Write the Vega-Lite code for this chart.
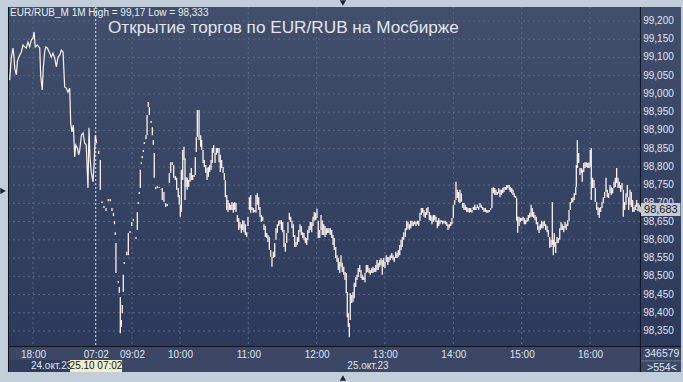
{
"$schema": "https://vega.github.io/schema/vega-lite/v6.json",
"width": 673, "height": 365,
"autosize": {"type": "none"},
"padding": {"left": 8, "top": 7, "right": 2, "bottom": 10},
"background": "#c3cedb",
"config": {"view": {"stroke": null, "fill": {"gradient": "linear", "x1": 0, "y1": 0, "x2": 0, "y2": 1, "stops": [{"offset": 0, "color": "#414f6c"}, {"offset": 0.9301, "color": "#2c395a"}, {"offset": 0.9301, "color": "#3b4764"}, {"offset": 1, "color": "#3b4764"}]}}, "font": "Liberation Sans",
 "locale": {"number": {"decimal": ",", "thousands": " ", "grouping": [3], "currency": ["", ""]}},
 "axis": {"grid": false, "ticks": false, "domain": false, "labelFont": "Liberation Sans", "labelFontSize": 10, "labelColor": "#dde6f3", "labelOverlap": false, "labelFlush": false, "labelBound": false, "titleOpacity": 0}},
"datasets": {
"levels": [{"p":98.35},{"p":98.4},{"p":98.45},{"p":98.5},{"p":98.55},{"p":98.6},{"p":98.65},{"p":98.7},{"p":98.75},{"p":98.8},{"p":98.85},{"p":98.9},{"p":98.95},{"p":99.0},{"p":99.05},{"p":99.1},{"p":99.15},{"p":99.2}],
"hours": [{"t":21},{"t":107.6},{"t":149.6},{"t":209.4},{"t":269.2},{"t":328.9},{"t":388.8},{"t":448.6},{"t":508.4}],
"evening": [{"t":0.6,"v":99.038},{"t":2.0,"v":99.099},{"t":3.5,"v":99.126},{"t":4.4,"v":99.101},{"t":5.0,"v":99.071},{"t":6.4,"v":99.052},{"t":7.3,"v":99.088},{"t":8.5,"v":99.101},{"t":10.8,"v":99.115},{"t":12.3,"v":99.134},{"t":13.7,"v":99.129},{"t":15.1,"v":99.126},{"t":16.6,"v":99.142},{"t":18.1,"v":99.129},{"t":19.5,"v":99.148},{"t":21.0,"v":99.153},{"t":21.9,"v":99.170},{"t":23.0,"v":99.129},{"t":24.8,"v":99.134},{"t":26.9,"v":99.126},{"t":27.7,"v":99.052},{"t":29.1,"v":99.011},{"t":30.0,"v":99.071},{"t":31.2,"v":99.115},{"t":32.1,"v":99.129},{"t":33.5,"v":99.126},{"t":35.6,"v":99.112},{"t":37.0,"v":99.101},{"t":38.5,"v":99.112},{"t":40.0,"v":99.099},{"t":41.4,"v":99.074},{"t":42.9,"v":99.101},{"t":44.4,"v":99.107},{"t":45.8,"v":99.120},{"t":47.3,"v":99.115},{"t":48.7,"v":99.019},{"t":50.1,"v":99.016},{"t":51.6,"v":99.005},{"t":53.1,"v":99.016},{"t":54.0,"v":98.920},{"t":55.1,"v":98.896},{"t":56.3,"v":98.915},{"t":57.5,"v":98.827},{"t":58.4,"v":98.860},{"t":59.8,"v":98.852},{"t":61.0,"v":98.833},{"t":61.9,"v":98.846},{"t":63.3,"v":98.887},{"t":64.8,"v":98.893},{"t":66.2,"v":98.865},{"t":67.6,"v":98.860},{"t":69.1,"v":98.742},{"t":70.0,"v":98.907},{"t":70.9,"v":98.824},{"t":72.0,"v":98.786},{"t":73.5,"v":98.759},{"t":74.4,"v":98.805},{"t":75.5,"v":98.887},{"t":76.7,"v":98.865}],
"bars": [
{"t":78.5,"high":98.844,"low":98.835},{"t":79.9,"high":98.819,"low":98.737},{"t":81.4,"high":98.706,"low":98.701},{"t":83.1,"high":98.693,"low":98.687},{"t":84.9,"high":98.687,"low":98.679},{"t":86.9,"high":98.712,"low":98.706},{"t":88.6,"high":98.712,"low":98.706},{"t":90.1,"high":98.687,"low":98.679},{"t":91.4,"high":98.674,"low":98.665},{"t":92.3,"high":98.652,"low":98.643},{"t":93.0,"high":98.621,"low":98.613},{"t":93.6,"high":98.591,"low":98.509},{"t":95.6,"high":98.487,"low":98.482},{"t":96.5,"high":98.471,"low":98.454},{"t":97.4,"high":98.443,"low":98.344},{"t":98.3,"high":98.380,"low":98.361},{"t":99.1,"high":98.421,"low":98.399},{"t":100.0,"high":98.504,"low":98.457},{"t":100.9,"high":98.539,"low":98.534},{"t":103.0,"high":98.567,"low":98.558},{"t":104.4,"high":98.619,"low":98.558},{"t":105.9,"high":98.624,"low":98.619},{"t":107.4,"high":98.649,"low":98.638},{"t":108.8,"high":98.657,"low":98.652},{"t":111.1,"high":98.608,"low":98.602},{"t":112.3,"high":98.676,"low":98.627},{"t":113.1,"high":98.704,"low":98.698},{"t":114.0,"high":98.731,"low":98.726},{"t":114.9,"high":98.792,"low":98.742},{"t":115.8,"high":98.813,"low":98.808},{"t":116.6,"high":98.830,"low":98.824},{"t":117.5,"high":98.846,"low":98.841},{"t":118.4,"high":98.868,"low":98.863},{"t":119.9,"high":98.887,"low":98.876},{"t":120.8,"high":98.942,"low":98.887},{"t":121.9,"high":98.978,"low":98.964},{"t":122.8,"high":98.964,"low":98.942},{"t":124.3,"high":98.926,"low":98.920},{"t":125.4,"high":98.909,"low":98.887},{"t":126.3,"high":98.874,"low":98.860},{"t":127.1,"high":98.838,"low":98.770},{"t":128.4,"high":98.745,"low":98.739},{"t":129.8,"high":98.748,"low":98.742},{"t":131.5,"high":98.745,"low":98.742},{"t":133.0,"high":98.739,"low":98.737},{"t":134.1,"high":98.742,"low":98.709},{"t":135.6,"high":98.731,"low":98.704},{"t":137.1,"high":98.701,"low":98.690},{"t":138.5,"high":98.698,"low":98.693},
{"t":140.3,"high":98.783,"low":98.756},{"t":141.5,"high":98.813,"low":98.783},{"t":142.9,"high":98.813,"low":98.805},{"t":144.1,"high":98.805,"low":98.770},{"t":145.5,"high":98.775,"low":98.764},{"t":146.7,"high":98.770,"low":98.737},{"t":148.1,"high":98.742,"low":98.717},{"t":149.0,"high":98.723,"low":98.696},{"t":149.9,"high":98.696,"low":98.663},{"t":150.8,"high":98.792,"low":98.676},{"t":152.0,"high":98.846,"low":98.764},{"t":153.1,"high":98.855,"low":98.819},{"t":154.0,"high":98.824,"low":98.709},{"t":154.9,"high":98.772,"low":98.745},{"t":156.0,"high":98.770,"low":98.737},{"t":157.2,"high":98.764,"low":98.745},{"t":158.4,"high":98.783,"low":98.759},{"t":159.5,"high":98.797,"low":98.764},{"t":160.7,"high":98.778,"low":98.764},{"t":162.1,"high":98.778,"low":98.772},{"t":163.0,"high":98.827,"low":98.778},{"t":163.9,"high":98.882,"low":98.841},{"t":164.8,"high":98.956,"low":98.882},{"t":166.3,"high":98.956,"low":98.874},{"t":167.7,"high":98.887,"low":98.855},{"t":168.6,"high":98.874,"low":98.846},{"t":169.8,"high":98.846,"low":98.811},{"t":170.9,"high":98.819,"low":98.800},{"t":172.1,"high":98.805,"low":98.783},{"t":173.3,"high":98.797,"low":98.764},{"t":174.4,"high":98.800,"low":98.772},{"t":175.6,"high":98.805,"low":98.786},{"t":176.8,"high":98.819,"low":98.792},{"t":177.9,"high":98.852,"low":98.811},{"t":179.1,"high":98.860,"low":98.838},{"t":180.3,"high":98.838,"low":98.811},{"t":181.4,"high":98.852,"low":98.833},{"t":182.6,"high":98.852,"low":98.838},{"t":183.8,"high":98.852,"low":98.813},{"t":184.9,"high":98.833,"low":98.786},{"t":186.1,"high":98.819,"low":98.797},{"t":187.3,"high":98.800,"low":98.783},{"t":188.4,"high":98.783,"low":98.764},{"t":189.3,"high":98.764,"low":98.717},{"t":190.5,"high":98.723,"low":98.682},{"t":191.6,"high":98.709,"low":98.676},{"t":192.8,"high":98.701,"low":98.682},{"t":194.0,"high":98.696,"low":98.682},{"t":195.1,"high":98.704,"low":98.682},{"t":196.3,"high":98.701,"low":98.674},{"t":197.5,"high":98.704,"low":98.682},{"t":198.6,"high":98.701,"low":98.676},{"t":199.8,"high":98.668,"low":98.649},{"t":201.0,"high":98.660,"low":98.627},{"t":202.1,"high":98.649,"low":98.632},{"t":203.3,"high":98.643,"low":98.619},{"t":204.5,"high":98.654,"low":98.627},{"t":205.6,"high":98.652,"low":98.621},{"t":206.8,"high":98.643,"low":98.613},{"t":208.0,"high":98.621,"low":98.608},{"t":209.1,"high":98.663,"low":98.638},{"t":210.3,"high":98.717,"low":98.682},{"t":211.5,"high":98.723,"low":98.674},{"t":212.6,"high":98.690,"low":98.682},{"t":213.8,"high":98.687,"low":98.674},{"t":215.0,"high":98.682,"low":98.676},{"t":216.1,"high":98.723,"low":98.674},{"t":217.3,"high":98.728,"low":98.696},{"t":218.5,"high":98.717,"low":98.682},{"t":219.6,"high":98.690,"low":98.663},{"t":220.8,"high":98.668,"low":98.649},{"t":222.0,"high":98.663,"low":98.652},{"t":223.1,"high":98.643,"low":98.627},{"t":224.3,"high":98.638,"low":98.608},{"t":225.5,"high":98.619,"low":98.605},{"t":226.6,"high":98.613,"low":98.594},{"t":227.8,"high":98.608,"low":98.572},{"t":229.0,"high":98.572,"low":98.553},{"t":230.1,"high":98.553,"low":98.526},{"t":231.3,"high":98.567,"low":98.550},{"t":232.5,"high":98.591,"low":98.553},{"t":233.6,"high":98.632,"low":98.600},{"t":234.8,"high":98.643,"low":98.619},{"t":236.0,"high":98.652,"low":98.638},{"t":237.1,"high":98.654,"low":98.643},{"t":238.3,"high":98.654,"low":98.627},{"t":239.5,"high":98.649,"low":98.621},{"t":240.6,"high":98.627,"low":98.580},{"t":241.8,"high":98.591,"low":98.567},{"t":243.0,"high":98.619,"low":98.591},{"t":244.1,"high":98.649,"low":98.619},{"t":245.3,"high":98.674,"low":98.654},{"t":246.5,"high":98.663,"low":98.649},{"t":247.6,"high":98.652,"low":98.632},{"t":248.8,"high":98.643,"low":98.608},{"t":250.0,"high":98.613,"low":98.580},{"t":251.1,"high":98.594,"low":98.580},{"t":252.3,"high":98.608,"low":98.586},{"t":253.5,"high":98.627,"low":98.594},{"t":254.6,"high":98.643,"low":98.621},{"t":255.8,"high":98.638,"low":98.613},{"t":257.0,"high":98.621,"low":98.605},{"t":258.1,"high":98.619,"low":98.600},{"t":259.3,"high":98.608,"low":98.591},{"t":260.5,"high":98.605,"low":98.586},{"t":261.4,"high":98.627,"low":98.600},{"t":262.5,"high":98.638,"low":98.619},{"t":263.6,"high":98.649,"low":98.627},{"t":264.9,"high":98.649,"low":98.621},{"t":266.0,"high":98.663,"low":98.638},{"t":267.1,"high":98.676,"low":98.652},{"t":268.4,"high":98.674,"low":98.654},{"t":269.5,"high":98.685,"low":98.660},{"t":270.6,"high":98.652,"low":98.605},{"t":271.9,"high":98.627,"low":98.605},{"t":273.0,"high":98.668,"low":98.627},{"t":274.1,"high":98.654,"low":98.613},{"t":275.4,"high":98.643,"low":98.613},{"t":276.5,"high":98.638,"low":98.608},{"t":277.6,"high":98.632,"low":98.613},{"t":278.9,"high":98.632,"low":98.619},{"t":280.0,"high":98.632,"low":98.619},{"t":281.1,"high":98.632,"low":98.613},{"t":282.4,"high":98.627,"low":98.605},{"t":283.5,"high":98.613,"low":98.586},{"t":284.6,"high":98.605,"low":98.572},{"t":285.9,"high":98.580,"low":98.550},{"t":287.0,"high":98.558,"low":98.539},{"t":288.1,"high":98.550,"low":98.517},{"t":289.4,"high":98.539,"low":98.509},{"t":290.5,"high":98.558,"low":98.526},{"t":291.6,"high":98.537,"low":98.512},{"t":292.9,"high":98.526,"low":98.504},{"t":294.0,"high":98.512,"low":98.490},{"t":295.1,"high":98.509,"low":98.454},{"t":296.0,"high":98.457,"low":98.388},{"t":296.9,"high":98.399,"low":98.361},{"t":297.8,"high":98.372,"low":98.333},{"t":298.6,"high":98.454,"low":98.380},{"t":299.9,"high":98.449,"low":98.427},{"t":301.0,"high":98.457,"low":98.430},{"t":302.1,"high":98.482,"low":98.440},{"t":303.4,"high":98.498,"low":98.471},{"t":304.5,"high":98.504,"low":98.490},{"t":305.6,"high":98.523,"low":98.498},{"t":306.9,"high":98.531,"low":98.512},{"t":308.0,"high":98.517,"low":98.495},{"t":309.1,"high":98.504,"low":98.490},{"t":310.4,"high":98.498,"low":98.490},{"t":311.5,"high":98.509,"low":98.484},{"t":312.6,"high":98.531,"low":98.509},{"t":313.9,"high":98.531,"low":98.512},{"t":315.0,"high":98.523,"low":98.509},{"t":316.1,"high":98.517,"low":98.504},{"t":317.4,"high":98.523,"low":98.509},{"t":318.5,"high":98.526,"low":98.509},{"t":319.6,"high":98.523,"low":98.512},{"t":320.9,"high":98.531,"low":98.512},{"t":322.0,"high":98.545,"low":98.517},{"t":323.1,"high":98.537,"low":98.517},{"t":324.4,"high":98.545,"low":98.526},{"t":325.5,"high":98.550,"low":98.531},{"t":326.6,"high":98.545,"low":98.504},{"t":327.9,"high":98.550,"low":98.526},{"t":329.0,"high":98.539,"low":98.523},{"t":330.1,"high":98.558,"low":98.539},{"t":331.4,"high":98.553,"low":98.531},{"t":332.5,"high":98.553,"low":98.539},{"t":333.6,"high":98.558,"low":98.545},{"t":334.9,"high":98.564,"low":98.550},{"t":336.0,"high":98.558,"low":98.545},{"t":337.1,"high":98.553,"low":98.539},{"t":338.4,"high":98.567,"low":98.550},{"t":339.5,"high":98.564,"low":98.550},{"t":340.6,"high":98.572,"low":98.553},{"t":341.9,"high":98.586,"low":98.558},{"t":343.0,"high":98.600,"low":98.572},{"t":344.1,"high":98.608,"low":98.580},{"t":345.4,"high":98.621,"low":98.600},{"t":346.8,"high":98.632,"low":98.608},{"t":348.0,"high":98.652,"low":98.627},{"t":349.1,"high":98.649,"low":98.632},{"t":350.3,"high":98.643,"low":98.627},{"t":351.5,"high":98.652,"low":98.632},{"t":352.6,"high":98.652,"low":98.638},{"t":353.8,"high":98.649,"low":98.638},{"t":355.0,"high":98.652,"low":98.643},{"t":356.1,"high":98.649,"low":98.638},{"t":357.3,"high":98.652,"low":98.643},{"t":358.5,"high":98.652,"low":98.638},{"t":359.6,"high":98.674,"low":98.652},{"t":360.8,"high":98.687,"low":98.668},{"t":362.0,"high":98.687,"low":98.674},{"t":363.1,"high":98.682,"low":98.663},{"t":364.3,"high":98.676,"low":98.660},{"t":365.5,"high":98.687,"low":98.668},{"t":366.6,"high":98.690,"low":98.674},{"t":367.8,"high":98.676,"low":98.654},{"t":369.0,"high":98.668,"low":98.652},{"t":370.1,"high":98.663,"low":98.643},{"t":371.3,"high":98.668,"low":98.649},{"t":372.5,"high":98.668,"low":98.654},{"t":373.6,"high":98.663,"low":98.649},{"t":374.8,"high":98.652,"low":98.632},{"t":376.0,"high":98.660,"low":98.638},{"t":377.1,"high":98.654,"low":98.643},{"t":378.3,"high":98.654,"low":98.649},{"t":379.5,"high":98.652,"low":98.643},{"t":380.6,"high":98.652,"low":98.646},{"t":381.8,"high":98.652,"low":98.643},{"t":383.0,"high":98.649,"low":98.638},{"t":384.1,"high":98.643,"low":98.627},{"t":385.3,"high":98.643,"low":98.632},{"t":386.5,"high":98.649,"low":98.638},{"t":387.6,"high":98.660,"low":98.643},{"t":388.8,"high":98.696,"low":98.660},{"t":390.0,"high":98.709,"low":98.696},{"t":391.1,"high":98.759,"low":98.709},{"t":392.3,"high":98.737,"low":98.715},{"t":393.5,"high":98.731,"low":98.704},{"t":394.6,"high":98.737,"low":98.701},{"t":395.8,"high":98.728,"low":98.704},{"t":397.0,"high":98.701,"low":98.687},{"t":398.1,"high":98.701,"low":98.682},{"t":399.3,"high":98.696,"low":98.682},{"t":400.5,"high":98.690,"low":98.676},{"t":401.6,"high":98.687,"low":98.676},{"t":402.8,"high":98.687,"low":98.674},{"t":404.0,"high":98.687,"low":98.676},{"t":405.1,"high":98.682,"low":98.674},{"t":406.3,"high":98.690,"low":98.682},{"t":407.5,"high":98.696,"low":98.682},{"t":408.6,"high":98.690,"low":98.682},{"t":409.8,"high":98.696,"low":98.687},{"t":411.0,"high":98.690,"low":98.682},{"t":412.1,"high":98.701,"low":98.690},{"t":413.3,"high":98.696,"low":98.687},{"t":414.5,"high":98.690,"low":98.682},{"t":415.6,"high":98.687,"low":98.676},{"t":416.8,"high":98.687,"low":98.676},{"t":418.0,"high":98.682,"low":98.674},{"t":419.1,"high":98.682,"low":98.674},{"t":420.3,"high":98.682,"low":98.676},{"t":421.5,"high":98.687,"low":98.682},{"t":422.6,"high":98.742,"low":98.687},{"t":423.8,"high":98.745,"low":98.728},{"t":425.0,"high":98.742,"low":98.723},{"t":426.1,"high":98.737,"low":98.723},{"t":427.3,"high":98.731,"low":98.723},{"t":428.5,"high":98.742,"low":98.728},{"t":429.6,"high":98.737,"low":98.717},{"t":430.8,"high":98.737,"low":98.723},{"t":432.0,"high":98.742,"low":98.728},{"t":433.1,"high":98.745,"low":98.731},{"t":434.3,"high":98.745,"low":98.737},{"t":435.5,"high":98.750,"low":98.737},{"t":436.6,"high":98.750,"low":98.742},{"t":437.8,"high":98.750,"low":98.737},{"t":438.6,"high":98.745,"low":98.731},{"t":439.9,"high":98.742,"low":98.728},{"t":441.0,"high":98.737,"low":98.723},{"t":442.1,"high":98.728,"low":98.717},{"t":443.4,"high":98.720,"low":98.715},{"t":444.2,"high":98.715,"low":98.652},{"t":445.1,"high":98.663,"low":98.619},{"t":446.3,"high":98.663,"low":98.638},{"t":447.4,"high":98.660,"low":98.649},{"t":448.6,"high":98.660,"low":98.652},{"t":449.8,"high":98.663,"low":98.652},{"t":450.9,"high":98.660,"low":98.643},{"t":452.1,"high":98.654,"low":98.643},{"t":453.3,"high":98.660,"low":98.649},{"t":454.4,"high":98.668,"low":98.652},{"t":455.6,"high":98.674,"low":98.660},{"t":456.8,"high":98.696,"low":98.663},{"t":457.9,"high":98.687,"low":98.663},{"t":459.1,"high":98.676,"low":98.660},{"t":460.3,"high":98.668,"low":98.654},{"t":461.4,"high":98.663,"low":98.643},{"t":462.6,"high":98.649,"low":98.627},{"t":463.8,"high":98.638,"low":98.619},{"t":464.9,"high":98.643,"low":98.627},{"t":466.1,"high":98.652,"low":98.632},{"t":467.3,"high":98.649,"low":98.632},{"t":468.4,"high":98.652,"low":98.638},{"t":469.6,"high":98.643,"low":98.627},{"t":470.8,"high":98.638,"low":98.621},{"t":471.9,"high":98.627,"low":98.608},{"t":473.1,"high":98.608,"low":98.578},{"t":474.3,"high":98.600,"low":98.580},{"t":475.4,"high":98.704,"low":98.586},{"t":476.3,"high":98.600,"low":98.558},{"t":477.1,"high":98.619,"low":98.580},{"t":478.4,"high":98.594,"low":98.564},{"t":479.5,"high":98.608,"low":98.591},{"t":480.6,"high":98.605,"low":98.591},{"t":481.9,"high":98.632,"low":98.600},{"t":483.0,"high":98.649,"low":98.627},{"t":484.1,"high":98.643,"low":98.627},{"t":485.4,"high":98.638,"low":98.621},{"t":486.5,"high":98.649,"low":98.632},{"t":487.6,"high":98.643,"low":98.627},{"t":488.9,"high":98.654,"low":98.638},{"t":490.0,"high":98.682,"low":98.652},{"t":491.1,"high":98.704,"low":98.682},{"t":492.4,"high":98.715,"low":98.701},{"t":493.5,"high":98.717,"low":98.704},{"t":494.6,"high":98.728,"low":98.709},{"t":495.9,"high":98.745,"low":98.723},{"t":496.4,"high":98.805,"low":98.745},{"t":497.3,"high":98.874,"low":98.797},{"t":498.5,"high":98.838,"low":98.811},{"t":499.6,"high":98.797,"low":98.778},{"t":500.8,"high":98.797,"low":98.783},{"t":501.6,"high":98.792,"low":98.759},{"t":502.9,"high":98.811,"low":98.786},{"t":504.0,"high":98.813,"low":98.797},{"t":505.1,"high":98.813,"low":98.800},{"t":506.4,"high":98.811,"low":98.797},{"t":507.5,"high":98.813,"low":98.797},{"t":508.6,"high":98.846,"low":98.800},{"t":509.5,"high":98.852,"low":98.709},{"t":510.7,"high":98.770,"low":98.742},{"t":511.9,"high":98.764,"low":98.742},{"t":513.0,"high":98.742,"low":98.704},{"t":514.2,"high":98.704,"low":98.682},{"t":515.4,"high":98.690,"low":98.668},{"t":516.5,"high":98.687,"low":98.660},{"t":517.7,"high":98.690,"low":98.676},{"t":518.9,"high":98.704,"low":98.687},{"t":520.0,"high":98.717,"low":98.701},{"t":521.2,"high":98.731,"low":98.715},{"t":522.4,"high":98.770,"low":98.731},{"t":523.5,"high":98.737,"low":98.717},{"t":524.7,"high":98.728,"low":98.715},{"t":525.9,"high":98.750,"low":98.728},{"t":527.0,"high":98.745,"low":98.723},{"t":528.2,"high":98.742,"low":98.728},{"t":529.4,"high":98.759,"low":98.742},{"t":530.5,"high":98.770,"low":98.745},{"t":531.7,"high":98.797,"low":98.756},{"t":532.9,"high":98.770,"low":98.742},{"t":534.0,"high":98.759,"low":98.742},{"t":535.2,"high":98.750,"low":98.731},{"t":536.4,"high":98.756,"low":98.737},{"t":537.5,"high":98.737,"low":98.663},{"t":538.7,"high":98.704,"low":98.682},{"t":539.9,"high":98.728,"low":98.696},{"t":541.0,"high":98.750,"low":98.717},{"t":542.2,"high":98.717,"low":98.682},{"t":543.4,"high":98.737,"low":98.696},{"t":544.5,"high":98.731,"low":98.690},{"t":545.7,"high":98.709,"low":98.676},{"t":546.9,"high":98.690,"low":98.676},{"t":548.0,"high":98.696,"low":98.682},{"t":549.2,"high":98.709,"low":98.690},{"t":550.4,"high":98.701,"low":98.687},{"t":551.5,"high":98.696,"low":98.683}
]
},
"layer": [
{"data": {"values": [{}]}, "mark": {"type": "rect", "color": "#313d5a"},
 "encoding": {"x": {"datum": -0.875, "type": "quantitative", "scale": {"domain": [-0.875, 588], "nice": false, "zero": false}}, "x2": {"datum": 53.4}, "y": {"datum": 98.2705, "type": "quantitative", "scale": {"domain": [98.2376, 99.2384], "nice": false, "zero": false}}, "y2": {"datum": 98.2376}}},
{"data": {"name": "levels"}, "mark": {"type": "rule", "color": "#5b6886", "strokeWidth": 1, "strokeDash": [2, 3]},
 "encoding": {"y": {"field": "p", "type": "quantitative", "title": null}, "x": {"datum": -0.875, "type": "quantitative"}, "x2": {"datum": 552.5}}},
{"data": {"name": "levels"}, "mark": {"type": "text", "font": "Liberation Sans", "fontSize": 10, "color": "#dde6f3", "align": "left", "baseline": "middle"},
 "encoding": {"y": {"field": "p", "type": "quantitative", "title": null}, "x": {"datum": 554.9, "type": "quantitative"}, "text": {"field": "p", "type": "quantitative", "format": ".3f"}}},
{"data": {"name": "hours"}, "mark": {"type": "rule", "color": "#5b6886", "strokeWidth": 1, "strokeDash": [2, 3]},
 "encoding": {"x": {"field": "t", "type": "quantitative", "title": null}, "y": {"datum": 99.2384, "type": "quantitative"}, "y2": {"datum": 98.3075}}},
{"data": {"values": [{}]}, "mark": {"type": "rule", "color": "#e6e8ec", "strokeWidth": 1, "strokeDash": [2, 2]},
 "encoding": {"x": {"datum": 75.9, "type": "quantitative"}, "y": {"datum": 99.2384, "type": "quantitative"}, "y2": {"datum": 98.3075}}},
{"data": {"name": "evening"}, "mark": {"type": "line", "color": "#fcf1ec", "strokeWidth": 1.2},
 "encoding": {"x": {"field": "t", "type": "quantitative", "title": null}, "y": {"field": "v", "type": "quantitative", "title": null}}},
{"data": {"name": "bars"}, "mark": {"type": "rule", "color": "#fcf1ec", "strokeWidth": 1.3},
 "encoding": {
  "x": {"field": "t", "type": "quantitative", "title": null, "axis": {"orient": "bottom", "offset": -25, "values": [21, 75.9, 107.6, 149.6, 209.4, 269.2, 328.9, 388.8, 448.6, 508.4], "labelExpr": "datum.value < 30 ? '18:00' : datum.value < 90 ? '07:02' : datum.value < 120 ? '09:02' : (10 + round((datum.value - 149.6) / 59.8)) + ':00'", "labelPadding": 2, "labelOverlap": false}},
  "y": {"field": "high", "type": "quantitative", "title": null, "axis": {"orient": "right", "offset": -41, "labels": false, "values": [98.35, 98.4, 98.45, 98.5, 98.55, 98.6, 98.65, 98.7, 98.75, 98.8, 98.85, 98.9, 98.95, 99.0, 99.05, 99.1, 99.15, 99.2]}},
  "y2": {"field": "low"}}},
{"data": {"values": [{}]}, "mark": {"type": "rule", "color": "#10141c", "strokeWidth": 1},
 "encoding": {"y": {"datum": 98.3075, "type": "quantitative"}, "x": {"datum": -0.875, "type": "quantitative"}, "x2": {"datum": 588}}},
{"data": {"values": [{}]}, "mark": {"type": "rule", "color": "#10141c", "strokeWidth": 1},
 "encoding": {"x": {"datum": 552.5, "type": "quantitative"}, "y": {"datum": 99.2384, "type": "quantitative"}, "y2": {"datum": 98.2376}}},
{"data": {"values": [{}]}, "mark": {"type": "rule", "color": "#10141c", "strokeWidth": 1},
 "encoding": {"x": {"datum": -0.45, "type": "quantitative"}, "y": {"datum": 99.2384, "type": "quantitative"}, "y2": {"datum": 98.2376}}},
{"data": {"values": [{}]}, "mark": {"type": "rect", "color": "#c6cad2"},
 "encoding": {"x": {"datum": 553.0, "type": "quantitative"}, "x2": {"datum": 587.5}, "y": {"datum": 98.701, "type": "quantitative"}, "y2": {"datum": 98.665}}},
{"data": {"values": [{}]}, "mark": {"type": "point", "shape": "triangle-left", "filled": true, "color": "#c6cad2", "size": 45, "opacity": 1},
 "encoding": {"x": {"datum": 550.6, "type": "quantitative"}, "y": {"datum": 98.683, "type": "quantitative"}}},
{"data": {"values": [{"label": "98,683"}]}, "mark": {"type": "text", "font": "Liberation Sans", "fontSize": 11, "color": "#141a26", "align": "center", "baseline": "middle"},
 "encoding": {"text": {"field": "label"}, "x": {"datum": 570.4, "type": "quantitative"}, "y": {"datum": 98.683, "type": "quantitative"}}},
{"data": {"values": [{"label": "EUR/RUB_M 1M High = 99,17 Low = 98,333"}]}, "mark": {"type": "text", "font": "Liberation Sans", "fontSize": 10, "color": "#e8eef7", "align": "left", "baseline": "middle"},
 "encoding": {"text": {"field": "label"}, "x": {"datum": 0.9, "type": "quantitative"}, "y": {"datum": 99.2206, "type": "quantitative"}}},
{"data": {"values": [{"label": "Открытие торгов по EUR/RUB на Мосбирже"}]}, "mark": {"type": "text", "font": "Liberation Sans", "fontSize": 17.2, "color": "#e2e6ec", "align": "left", "baseline": "alphabetic"},
 "encoding": {"text": {"field": "label"}, "x": {"datum": 86.6, "type": "quantitative"}, "y": {"datum": 99.1663, "type": "quantitative"}}},
{"data": {"values": [{"label": "24.окт.23"}]}, "mark": {"type": "text", "font": "Liberation Sans", "fontSize": 10, "color": "#dde6f3", "align": "left", "baseline": "middle"},
 "encoding": {"text": {"field": "label"}, "x": {"datum": 19.2, "type": "quantitative"}, "y": {"datum": 98.254, "type": "quantitative"}}},
{"data": {"values": [{}]}, "mark": {"type": "rect", "color": "#f3efca"},
 "encoding": {"x": {"datum": 53.4, "type": "quantitative"}, "x2": {"datum": 98.9}, "y": {"datum": 98.2705, "type": "quantitative"}, "y2": {"datum": 98.2376}}},
{"data": {"values": [{"label": "25.10 07:02"}]}, "mark": {"type": "text", "font": "Liberation Sans", "fontSize": 10, "color": "#10141c", "align": "center", "baseline": "middle"},
 "encoding": {"text": {"field": "label"}, "x": {"datum": 76.1, "type": "quantitative"}, "y": {"datum": 98.253, "type": "quantitative"}}},
{"data": {"values": [{"label": "25.окт.23"}]}, "mark": {"type": "text", "font": "Liberation Sans", "fontSize": 10, "color": "#dde6f3", "align": "center", "baseline": "middle"},
 "encoding": {"text": {"field": "label"}, "x": {"datum": 314.1, "type": "quantitative"}, "y": {"datum": 98.254, "type": "quantitative"}}},
{"data": {"values": [{}]}, "mark": {"type": "rule", "color": "#6a7590", "strokeWidth": 1},
 "encoding": {"y": {"datum": 98.268, "type": "quantitative"}, "x": {"datum": 553.0, "type": "quantitative"}, "x2": {"datum": 588}}},
{"data": {"values": [{"label": "346579"}]}, "mark": {"type": "text", "font": "Liberation Sans", "fontSize": 10.5, "color": "#dde6f3", "align": "center", "baseline": "middle"},
 "encoding": {"text": {"field": "label"}, "x": {"datum": 571.3, "type": "quantitative"}, "y": {"datum": 98.287, "type": "quantitative"}}},
{"data": {"values": [{"label": ">554<"}]}, "mark": {"type": "text", "font": "Liberation Sans", "fontSize": 10.5, "color": "#dde6f3", "align": "center", "baseline": "middle"},
 "encoding": {"text": {"field": "label"}, "x": {"datum": 571.3, "type": "quantitative"}, "y": {"datum": 98.2486, "type": "quantitative"}}},
{"data": {"values": [{}]}, "mark": {"type": "point", "shape": "triangle-down", "filled": true, "color": "#1c2430", "size": 40, "opacity": 1},
 "encoding": {"x": {"datum": 292.2, "type": "quantitative"}, "y": {"datum": 99.2494, "type": "quantitative"}}},
{"data": {"values": [{}]}, "mark": {"type": "point", "shape": "triangle-up", "filled": true, "color": "#1c2430", "size": 40, "opacity": 1},
 "encoding": {"x": {"datum": 292.2, "type": "quantitative"}, "y": {"datum": 98.2212, "type": "quantitative"}}},
{"data": {"values": [{}]}, "mark": {"type": "point", "shape": "triangle-right", "filled": true, "color": "#1c2430", "size": 40, "opacity": 1},
 "encoding": {"x": {"datum": -5.25, "type": "quantitative"}, "y": {"datum": 98.734, "type": "quantitative"}}}
]
}
